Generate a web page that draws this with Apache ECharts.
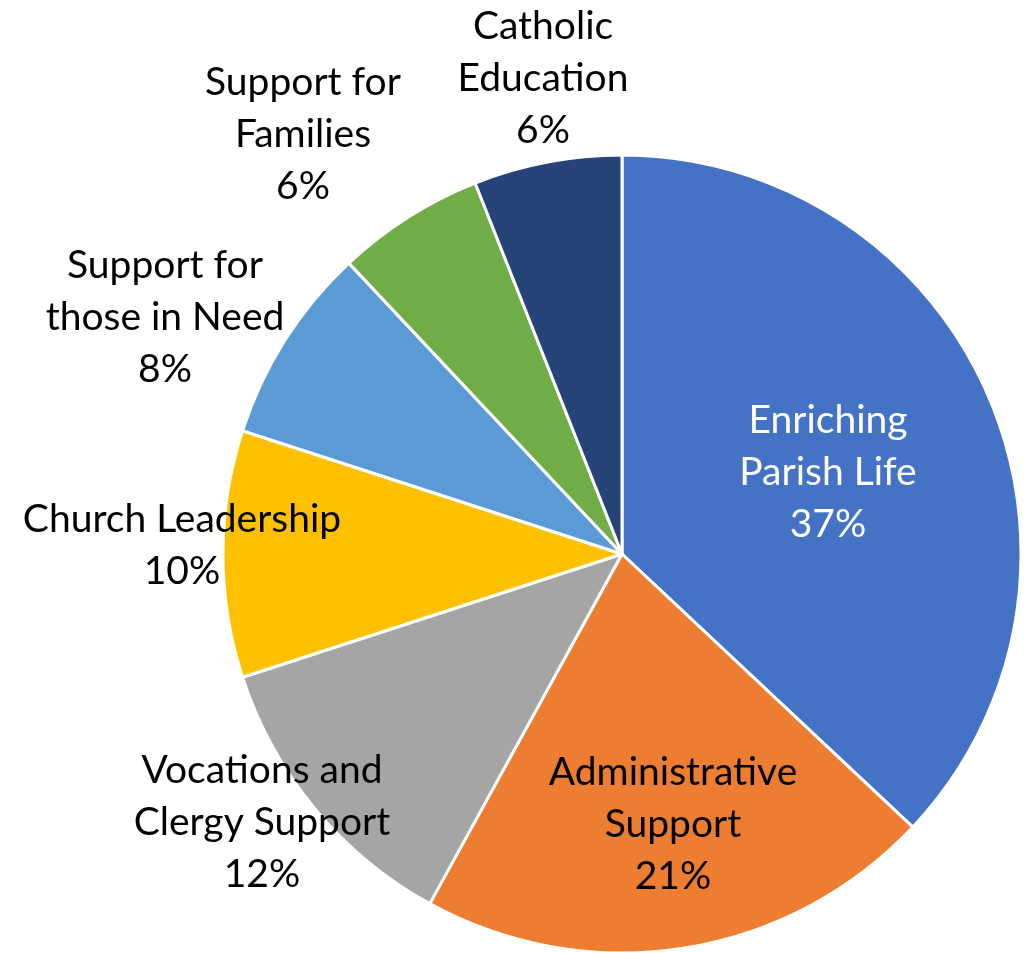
<!DOCTYPE html>
<html>
<head>
<meta charset="utf-8">
<script src="https://cdn.jsdelivr.net/npm/echarts@6/dist/echarts.min.js"></script>
<style>
html,body{margin:0;padding:0;background:#fff;}
#chart{width:1033px;height:953px;}
</style>
</head>
<body>
<div id="chart"></div>
<script>
const categories = ["Enriching\nParish Life", "Administrative\nSupport", "Vocations and\nClergy Support", "Church Leadership", "Support for\nthose in Need", "Support for\nFamilies", "Catholic\nEducation"];
const values = [37, 21, 12, 10, 8, 6, 6];
const colors = ["#4472C4", "#ED7D31", "#A5A5A5", "#FFC000", "#5B9BD5", "#70AD47", "#264478"];
const labelColors = ["#ffffff", "#000000", "#000000", "#000000", "#000000", "#000000", "#000000"];
// label block centres (px), as placed in the reference
const labelAnchors = [[828, 472], [673, 824], [262, 822], [182, 545], [165, 317], [303, 134], [543, 78]];

const chart = echarts.init(document.getElementById('chart'), null, {renderer: 'canvas'});
chart.setOption({
  backgroundColor: '#ffffff',
  animation: false,
  series: [{
    type: 'pie',
    center: [622, 554],
    radius: [0, 399],
    startAngle: 90,
    clockwise: true,
    avoidLabelOverlap: false,
    itemStyle: {borderColor: '#ffffff', borderWidth: 3},
    label: {
      show: true,
      position: 'inside',
      fontFamily: 'Lato',
      fontSize: 39,
      lineHeight: 52,
      formatter: p => p.name + '\n' + Math.round(p.percent) + '%'
    },
    labelLine: {show: false},
    labelLayout: p => ({x: labelAnchors[p.dataIndex][0], y: labelAnchors[p.dataIndex][1], align: 'center', verticalAlign: 'middle'}),
    emphasis: {disabled: true},
    data: categories.map((c, i) => ({
      name: c,
      value: values[i],
      itemStyle: {color: colors[i]},
      label: {color: labelColors[i]}
    }))
  }]
});
</script>
</body>
</html>
